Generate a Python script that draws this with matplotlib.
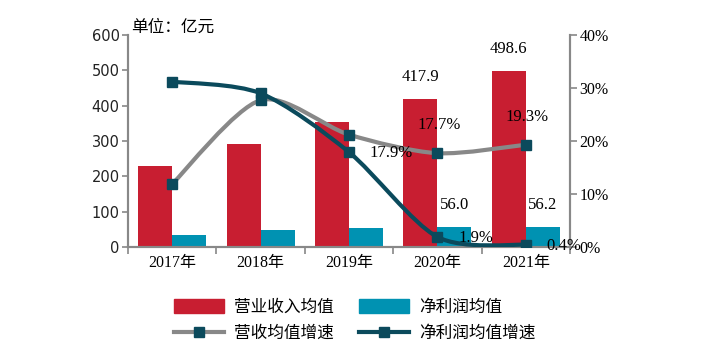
import matplotlib
matplotlib.use("Agg")
import matplotlib.pyplot as plt
import numpy as np
from matplotlib.path import Path
from matplotlib.patches import PathPatch, Patch
from matplotlib.lines import Line2D

years = ["2017年", "2018年", "2019年", "2020年", "2021年"]
revenue = [230, 292, 355, 417.9, 498.6]
profit = [35, 47, 55, 56.0, 56.2]
rev_growth = [11.9, 27.7, 21.2, 17.7, 19.3]
profit_growth = [31.2, 29.0, 17.9, 1.9, 0.4]

RED = "#C81E31"
TEAL = "#0092B2"
GRAY = "#888888"
DARK = "#0B4A5C"
SERIF = ["Liberation Serif", "Noto Sans CJK SC"]
CJK = ["Noto Sans CJK SC", "DejaVu Sans"]

plt.rcParams["font.family"] = CJK


def smooth_path(xs, ys, k=0.85):
    # Catmull-Rom style smoothing, as bezier segments
    pts = np.column_stack([xs, ys]).astype(float)
    n = len(pts)
    verts = [pts[0]]
    codes = [Path.MOVETO]
    for i in range(n - 1):
        p0 = pts[max(i - 1, 0)]
        p1 = pts[i]
        p2 = pts[i + 1]
        p3 = pts[min(i + 2, n - 1)]
        c1 = p1 + (p2 - p0) / 6 * k
        c2 = p2 - (p3 - p1) / 6 * k
        verts += [c1, c2, p2]
        codes += [Path.CURVE4] * 3
    return Path(verts, codes)


fig = plt.figure(figsize=(7.01, 3.61), dpi=100)
ax = fig.add_axes([128 / 701, 1 - 247 / 361, 442 / 701, 212 / 361])
ax2 = ax.twinx()

x = np.arange(len(years))
w = 0.385
ax.bar(x - w / 2, revenue, w, color=RED, zorder=2)
ax.bar(x + w / 2, profit, w, color=TEAL, zorder=2)

ax.set_xlim(-0.5, len(years) - 0.5)
ax.set_ylim(0, 600)
ax.set_yticks(range(0, 601, 100))
ax.tick_params(axis="y", labelsize=10.5, colors="#222222", length=4, width=1.2,
               direction="out", color="#888888", pad=2)
for t in ax.get_yticklabels():
    t.set_family(["DejaVu Sans"])
ax.set_xticks(x)
ax.set_xticklabels(years, family=SERIF, fontsize=11.5)
ax.set_xticks(np.arange(-0.5, len(years), 1), minor=True)
ax.tick_params(axis="x", which="major", length=0, pad=6)
ax.tick_params(axis="x", which="minor", length=5, width=1.2, color="#888888")

for a in (ax, ax2):
    a.spines["top"].set_visible(False)
    for s in ("left", "right", "bottom"):
        a.spines[s].set_color("#888888")
        a.spines[s].set_linewidth(1.5)

ax2.set_ylim(0, 40)
ax2.set_yticks(range(0, 41, 10))
ax2.set_yticklabels([f"{v}%" for v in range(0, 41, 10)], family=SERIF, fontsize=11.5)
ax2.tick_params(axis="y", length=5, width=1.2, color="#888888", pad=2)

# smoothed growth lines
ax2.add_patch(PathPatch(smooth_path(x, rev_growth), facecolor="none",
                        edgecolor=GRAY, lw=3, zorder=3))
ax2.add_patch(PathPatch(smooth_path(x, profit_growth), facecolor="none",
                        edgecolor=DARK, lw=3, zorder=4))
ax2.plot(x, rev_growth, ls="none", marker="s", ms=7.5, color=DARK, zorder=5)
ax2.plot(x, profit_growth, ls="none", marker="s", ms=7.5, color=DARK, zorder=5)

# bar labels
for i in (3, 4):
    ax.text(x[i] - w / 2, revenue[i] + 63, f"{revenue[i]:.1f}", ha="center",
            va="center", family=SERIF, fontsize=12)
    ax.text(x[i] + w / 2, profit[i] + 63, f"{profit[i]:.1f}", ha="center",
            va="center", family=SERIF, fontsize=12)

# growth labels
for i in (3, 4):
    ax2.annotate(f"{rev_growth[i]:.1f}%", (x[i], rev_growth[i]), xytext=(1, 20),
                 textcoords="offset points", ha="center", va="center",
                 family=SERIF, fontsize=12, zorder=6)
for i in (2, 3, 4):
    ax2.annotate(f"{profit_growth[i]:.1f}%", (x[i], profit_growth[i]), xytext=(15, -0.5),
                 textcoords="offset points", ha="left", va="center",
                 family=SERIF, fontsize=12, zorder=6)

fig.text(131 / 701, 1 - 27 / 361, "单位：亿元", fontsize=12, va="center", ha="left")

handles = [
    Patch(color=RED),
    Line2D([], [], color=GRAY, lw=3, marker="s", ms=6.5, mfc=DARK, mec=DARK),
    Patch(color=TEAL),
    Line2D([], [], color=DARK, lw=3, marker="s", ms=6.5, mfc=DARK, mec=DARK),
]
labels = ["营业收入均值", "营收均值增速", "净利润均值", "净利润均值增速"]
fig.legend(handles, labels, ncol=2, loc="center", bbox_to_anchor=(0.506, 0.112),
           frameon=False, fontsize=12, handlelength=3.0, handleheight=0.9,
           columnspacing=1.5, labelspacing=0.55, handletextpad=0.6)

fig.savefig("out.png", dpi=100)
